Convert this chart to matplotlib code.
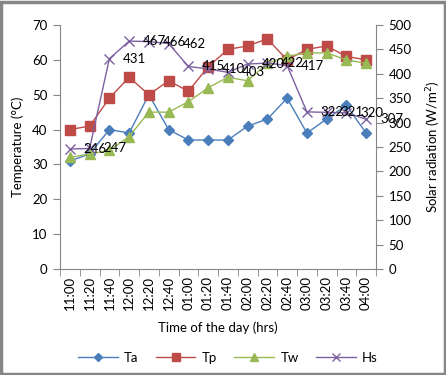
import numpy as np
import matplotlib.pyplot as plt
from matplotlib.patches import Rectangle

plt.rcParams['font.family'] = ['Lato', 'DejaVu Sans']

times = ['11:00', '11:20', '11:40', '12:00', '12:20', '12:40', '01:00', '01:20',
         '01:40', '02:00', '02:20', '02:40', '03:00', '03:20', '03:40', '04:00']
Ta = [31, 33, 40, 39, 50, 40, 37, 37, 37, 41, 43, 49, 39, 43, 47, 39]
Tp = [40, 41, 49, 55, 50, 54, 51, 58, 63, 64, 66, 60, 63, 64, 61, 60]
Tw = [32, 33, 34, 38, 45, 45, 48, 52, 55, 54, 59, 61, 62, 62, 60, 59]
Hs = [246, 247, 431, 467, 466, 462, 415, 410, 403, 420, 422, 417, 322, 321, 320, 307]

axis_col = '#868686'
fs = 9.5

fig = plt.figure(figsize=(4.46, 3.75), dpi=100)
ax = fig.add_axes([60 / 446, 1 - 269 / 375, 316 / 446, 244 / 375])
ax2 = ax.twinx()

x = np.arange(len(times))
ax.plot(x, Ta, color='#4A7EBB', marker='D', ms=5.5, lw=1, label='Ta')
ax.plot(x, Tp, color='#BE4B48', marker='s', ms=7, lw=1, label='Tp')
ax.plot(x, Tw, color='#98B954', marker='^', ms=7.5, lw=1, label='Tw')
ax2.plot(x, Hs, color='#7D60A0', marker='x', ms=7, mew=1, lw=1, label='Hs')

for xi, v in zip(x, Hs):
    ax2.annotate(str(v), (xi, v), xytext=(10, 0), textcoords='offset points',
                 ha='left', va='center', fontsize=fs)

ax.set_xlim(-0.5, len(times) - 0.5)
ax.set_ylim(0, 70)
ax.set_yticks(range(0, 71, 10))
ax2.set_ylim(0, 500)
ax2.set_yticks(range(0, 501, 50))

ax.set_xticks(x)
ax.set_xticklabels(times, rotation=90, fontsize=fs)
ax.set_xticks(np.arange(-0.5, len(times), 1), minor=True)
ax.tick_params(axis='x', which='major', length=0, pad=5)
ax.tick_params(axis='x', which='minor', length=5, color=axis_col, direction='out')
ax.tick_params(axis='y', labelsize=fs, length=5, color=axis_col, pad=4)
ax2.tick_params(axis='y', labelsize=fs, length=5, color=axis_col, pad=4)

for a in (ax, ax2):
    for s in a.spines.values():
        s.set_visible(False)
ax.spines['left'].set_visible(True)
ax.spines['bottom'].set_visible(True)
ax2.spines['right'].set_visible(True)
ax.spines['left'].set_color(axis_col)
ax.spines['bottom'].set_color(axis_col)
ax2.spines['right'].set_color(axis_col)

ax.set_ylabel('Temperature (°C)', fontsize=fs, labelpad=6)
ax2.set_ylabel('Solar radiation (W/m$^2$)', fontsize=fs, labelpad=9)
ax.set_xlabel('Time of the day (hrs)', fontsize=fs, labelpad=8)

h1, l1 = ax.get_legend_handles_labels()
h2, l2 = ax2.get_legend_handles_labels()
fig.legend(h1 + h2, l1 + l2, loc='center', bbox_to_anchor=(228 / 446, 1 - 358 / 375),
           ncol=4, frameon=False, fontsize=fs, handlelength=3.0, columnspacing=1.3,
           handletextpad=0.5, markerscale=0.8)

fig.patches.append(Rectangle((0.003, 0.004), 0.994, 0.992, transform=fig.transFigure,
                             fill=False, edgecolor='#868686', lw=2.5))

fig.savefig('out.png', dpi=100)
